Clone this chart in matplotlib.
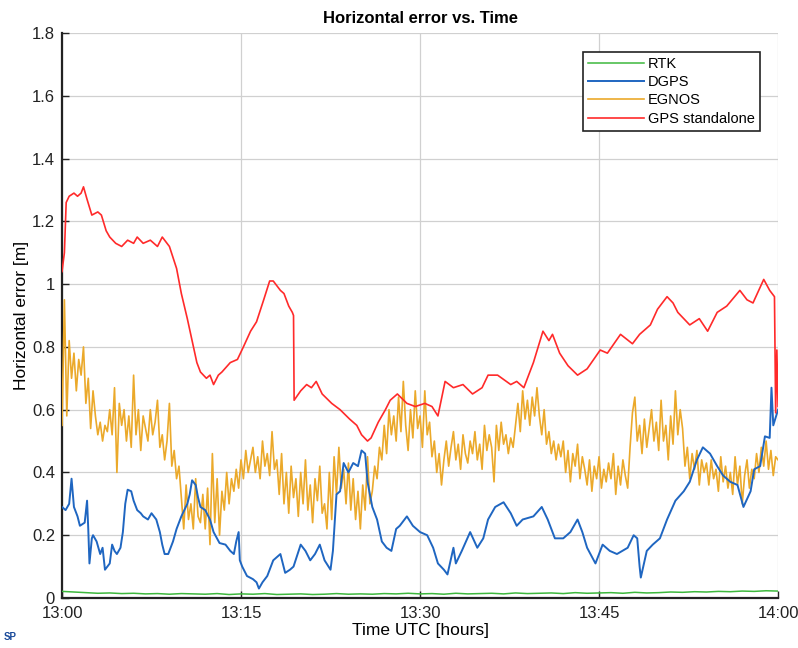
import numpy as np
import matplotlib
matplotlib.use("Agg")
import matplotlib.pyplot as plt

plt.rcParams['font.family'] = ['Liberation Sans', 'DejaVu Sans']

# ---- data (time in minutes after 13:00 UTC) ----
x_tick_pos = [0, 15, 30, 45, 60]
x_tick_labels = ["13:00", "13:15", "13:30", "13:45", "14:00"]
y_ticks = [0, 0.2, 0.4, 0.6, 0.8, 1.0, 1.2, 1.4, 1.6, 1.8]
y_tick_labels = ["0", "0.2", "0.4", "0.6", "0.8", "1", "1.2", "1.4", "1.6", "1.8"]

rtk_t = list(range(0, 61))
rtk_v = [0.021, 0.019, 0.017, 0.015, 0.016, 0.014, 0.015, 0.013, 0.014, 0.012,
         0.014, 0.013, 0.012, 0.014, 0.011, 0.013, 0.012, 0.014, 0.011, 0.012,
         0.013, 0.011, 0.012, 0.014, 0.012, 0.013, 0.012, 0.014, 0.013, 0.015,
         0.013, 0.014, 0.012, 0.015, 0.013, 0.014, 0.015, 0.013, 0.016, 0.014,
         0.015, 0.016, 0.014, 0.017, 0.015, 0.016, 0.017, 0.015, 0.018, 0.016,
         0.017, 0.019, 0.018, 0.020, 0.019, 0.021, 0.020, 0.022, 0.021, 0.023, 0.022]

dgps_t = [0, 0.3, 0.6, 0.8, 1.0, 1.3, 1.5, 1.9, 2.1, 2.2, 2.3, 2.5, 2.6, 2.9, 3.2, 3.4, 3.6, 3.8,
          4.0, 4.2, 4.4, 4.6, 4.9, 5.1, 5.3, 5.5, 5.8, 6.0, 6.3, 6.6, 6.8, 7.2, 7.5, 7.9, 8.2,
          8.4, 8.6, 8.9, 9.3, 9.6, 10.0, 10.5, 10.7, 10.9, 11.2, 11.4, 11.6, 12.0, 12.4, 12.7,
          13.2, 13.7, 14.1, 14.4, 14.6, 14.8, 14.9, 15.1, 15.5, 16.0, 16.3, 16.5, 16.8, 17.2,
          17.7, 18.3, 18.7, 19.1, 19.4, 20.0, 20.4, 20.8, 21.2, 21.6, 22.0, 22.5, 22.7, 23.0,
          23.3, 23.6, 24.0, 24.4, 24.8, 25.1, 25.4, 25.6, 26.0, 26.4, 26.8, 27.2, 27.6, 28.0,
          28.3, 28.9, 29.4, 30.0, 30.6, 31.1, 31.5, 32.0, 32.3, 32.8, 33.0, 33.5, 34.2, 34.8,
          35.3, 35.7, 36.3, 37.0, 37.6, 38.1, 38.6, 39.5, 40.2, 40.7, 41.3, 42.0, 42.6, 43.2,
          43.6, 44.0, 44.7, 45.3, 45.9, 46.5, 47.4, 47.9, 48.2, 48.4, 48.5, 49.0, 49.5, 50.1,
          50.7, 51.4, 52.1, 52.6, 53.2, 53.7, 54.3, 54.9, 55.4, 56.0, 56.6, 57.1, 57.7, 58.0,
          58.5, 58.9, 59.3, 59.45, 59.6, 60.0]
dgps_v = [0.29, 0.28, 0.30, 0.38, 0.29, 0.26, 0.23, 0.24, 0.31, 0.22, 0.11, 0.19, 0.20, 0.18,
          0.14, 0.16, 0.09, 0.10, 0.11, 0.17, 0.15, 0.14, 0.16, 0.21, 0.30, 0.345, 0.34, 0.31,
          0.28, 0.27, 0.26, 0.25, 0.27, 0.25, 0.21, 0.17, 0.14, 0.14, 0.18, 0.22, 0.26, 0.30,
          0.33, 0.375, 0.36, 0.32, 0.29, 0.28, 0.25, 0.21, 0.175, 0.17, 0.15, 0.14, 0.18, 0.21,
          0.12, 0.10, 0.07, 0.06, 0.05, 0.03, 0.05, 0.07, 0.12, 0.14, 0.08, 0.09, 0.10, 0.17,
          0.15, 0.12, 0.14, 0.17, 0.12, 0.09, 0.15, 0.33, 0.34, 0.43, 0.40, 0.43, 0.42, 0.47,
          0.46, 0.37, 0.29, 0.25, 0.18, 0.16, 0.15, 0.22, 0.23, 0.26, 0.23, 0.21, 0.20, 0.16,
          0.11, 0.09, 0.075, 0.16, 0.11, 0.15, 0.21, 0.16, 0.19, 0.25, 0.29, 0.305, 0.27, 0.23,
          0.25, 0.26, 0.29, 0.25, 0.19, 0.19, 0.21, 0.25, 0.21, 0.16, 0.11, 0.17, 0.15, 0.14,
          0.16, 0.20, 0.19, 0.10, 0.065, 0.15, 0.17, 0.19, 0.25, 0.31, 0.34, 0.37, 0.44, 0.48,
          0.46, 0.42, 0.39, 0.37, 0.36, 0.29, 0.34, 0.41, 0.42, 0.515, 0.51, 0.67, 0.55, 0.60]

egnos_t = [round(0.2 * i, 1) for i in range(301)]
egnos_v = [0.55, 0.95, 0.58, 0.82, 0.70, 0.78, 0.66, 0.76, 0.71, 0.80,
           0.62, 0.70, 0.54, 0.66, 0.58, 0.52, 0.56, 0.50, 0.55, 0.53,
           0.60, 0.52, 0.67, 0.40, 0.62, 0.55, 0.60, 0.50, 0.58, 0.48,
           0.71, 0.52, 0.60, 0.47, 0.58, 0.54, 0.50, 0.60, 0.52, 0.56,
           0.63, 0.48, 0.52, 0.44, 0.50, 0.62, 0.42, 0.47, 0.38, 0.42,
           0.32, 0.22, 0.36, 0.25, 0.30, 0.22, 0.38, 0.26, 0.24, 0.33,
           0.22, 0.35, 0.17, 0.46, 0.24, 0.38, 0.20, 0.34, 0.28, 0.40,
           0.30, 0.38, 0.34, 0.41, 0.35, 0.44, 0.38, 0.47, 0.40, 0.44,
           0.48, 0.40, 0.45, 0.38, 0.50, 0.42, 0.46, 0.39, 0.53, 0.41,
           0.44, 0.33, 0.46, 0.30, 0.40, 0.27, 0.42, 0.32, 0.38, 0.26,
           0.40, 0.30, 0.44, 0.28, 0.36, 0.24, 0.38, 0.31, 0.42, 0.27,
           0.30, 0.22, 0.40, 0.25, 0.45, 0.33, 0.48, 0.35, 0.41, 0.30,
           0.43, 0.28, 0.38, 0.25, 0.34, 0.22, 0.36, 0.28, 0.45, 0.30,
           0.34, 0.42, 0.38, 0.48, 0.44, 0.55, 0.46, 0.60, 0.52, 0.58,
           0.50, 0.64, 0.53, 0.69, 0.55, 0.47, 0.60, 0.51, 0.66, 0.54,
           0.58, 0.48, 0.66, 0.52, 0.56, 0.45, 0.50, 0.40, 0.46, 0.36,
           0.44, 0.50, 0.42, 0.48, 0.53, 0.44, 0.49, 0.41, 0.52, 0.46,
           0.43, 0.50, 0.46, 0.53, 0.44, 0.49, 0.41, 0.55, 0.47, 0.52,
           0.48, 0.37, 0.55, 0.47, 0.56, 0.49, 0.52, 0.46, 0.51, 0.48,
           0.55, 0.62, 0.53, 0.66, 0.57, 0.63, 0.55, 0.64, 0.58, 0.67,
           0.58, 0.52, 0.60, 0.49, 0.53, 0.46, 0.50, 0.44, 0.49, 0.45,
           0.50, 0.40, 0.47, 0.37, 0.46, 0.42, 0.49, 0.38, 0.45, 0.41,
           0.36, 0.44, 0.34, 0.42, 0.38, 0.45, 0.35, 0.41, 0.37, 0.43,
           0.38, 0.46, 0.33, 0.42, 0.36, 0.44, 0.39, 0.35, 0.48, 0.59,
           0.64, 0.50, 0.55, 0.46, 0.57, 0.48, 0.54, 0.60, 0.50, 0.56,
           0.47, 0.63, 0.50, 0.55, 0.44, 0.58, 0.49, 0.66, 0.52, 0.60,
           0.54, 0.42, 0.48, 0.38, 0.46, 0.41, 0.47, 0.36, 0.44, 0.40,
           0.43, 0.36, 0.44, 0.38, 0.41, 0.34, 0.45, 0.37, 0.42, 0.35,
           0.40, 0.33, 0.45, 0.36, 0.42, 0.30, 0.39, 0.44, 0.35, 0.41,
           0.38, 0.46, 0.40, 0.48, 0.42, 0.50, 0.41, 0.47, 0.39, 0.45,
           0.44]

gps_t = [0, 0.2, 0.35, 0.6, 1.0, 1.3, 1.6, 1.8, 2.1, 2.5, 3.0, 3.3, 3.7, 4.0, 4.5, 5.0, 5.5,
         6.0, 6.3, 6.8, 7.4, 8.0, 8.4, 9.0, 9.6, 10.0, 10.5, 10.9, 11.3, 11.6, 12.1, 12.4,
         12.7, 13.1, 13.4, 14.1, 14.7, 15.2, 15.8, 16.3, 16.9, 17.4, 17.7, 18.3, 18.6, 19.0,
         19.3, 19.4, 19.45, 20.0, 20.5, 20.9, 21.3, 21.8, 22.6, 23.3, 24.1, 24.7, 25.1, 25.6,
         25.9, 26.5, 27.1, 27.5, 28.1, 28.9, 29.6, 30.4, 31.0, 31.5, 32.1, 32.8, 33.6, 34.4,
         35.2, 35.7, 36.5, 37.6, 38.1, 38.7, 39.5, 40.3, 40.8, 41.1, 41.7, 42.4, 43.2, 44.0,
         45.1, 45.7, 46.8, 47.8, 48.4, 49.3, 49.9, 50.7, 51.2, 51.6, 52.6, 53.4, 54.1, 54.9,
         55.7, 56.8, 57.4, 57.9, 58.8, 59.3, 59.7, 59.8, 59.9, 60.0]
gps_v = [1.04, 1.10, 1.26, 1.28, 1.29, 1.28, 1.29, 1.31, 1.27, 1.22, 1.23, 1.22, 1.17, 1.15,
         1.13, 1.12, 1.14, 1.13, 1.15, 1.13, 1.14, 1.12, 1.15, 1.12, 1.05, 0.97, 0.89, 0.82,
         0.75, 0.72, 0.70, 0.71, 0.68, 0.71, 0.72, 0.75, 0.76, 0.80, 0.85, 0.88, 0.95, 1.01,
         1.01, 0.98, 0.97, 0.93, 0.91, 0.90, 0.63, 0.66, 0.68, 0.67, 0.69, 0.65, 0.62, 0.60,
         0.57, 0.55, 0.52, 0.50, 0.51, 0.56, 0.60, 0.63, 0.65, 0.62, 0.61, 0.62, 0.61, 0.58,
         0.69, 0.67, 0.68, 0.65, 0.67, 0.71, 0.71, 0.68, 0.69, 0.67, 0.75, 0.85, 0.82, 0.84,
         0.78, 0.74, 0.71, 0.73, 0.79, 0.78, 0.84, 0.81, 0.84, 0.87, 0.92, 0.96, 0.94, 0.91,
         0.87, 0.89, 0.85, 0.91, 0.93, 0.98, 0.95, 0.94, 1.015, 0.98, 0.96, 0.59, 0.79, 0.61]

# ---- figure ----
fig = plt.figure(figsize=(7.98, 6.48), dpi=100)
ax = fig.add_axes([0.0777, 0.0772, 0.8973, 0.8718])

c_rtk = "#3db83d"
c_dgps = "#1f66c1"
c_egnos = "#eba92a"
c_gps = "#ff2a2a"

ax.plot(rtk_t, rtk_v, color=c_rtk, lw=1.1, label="RTK", zorder=3)
ax.plot(dgps_t, dgps_v, color=c_dgps, lw=1.4, label="DGPS", zorder=4)
ax.plot(egnos_t, egnos_v, color=c_egnos, lw=1.2, label="EGNOS", zorder=3)
ax.plot(gps_t, gps_v, color=c_gps, lw=1.2, label="GPS standalone", zorder=4)

ax.set_xlim(0, 60)
ax.set_ylim(0, 1.8)
ax.set_xticks(x_tick_pos)
ax.set_xticklabels(x_tick_labels)
ax.set_yticks(y_ticks)
ax.set_yticklabels(y_tick_labels)
ax.tick_params(direction="in", labelsize=12, length=5, width=1.0, colors="#222222")
ax.tick_params(axis="x", pad=6)
ax.tick_params(axis="y", pad=5)
ax.grid(True, color="#d0d0d0", lw=0.9)
ax.set_axisbelow(True)
for s in ["top", "right"]:
    ax.spines[s].set_visible(False)
for s in ["left", "bottom"]:
    ax.spines[s].set_linewidth(1.6)
    ax.spines[s].set_color("#222222")

ax.set_title("Horizontal error vs. Time", fontsize=12, fontweight="bold", pad=7)
ax.set_xlabel("Time UTC [hours]", fontsize=12.5, labelpad=1)
ax.set_ylabel("Horizontal error [m]", fontsize=12.5, labelpad=2)

leg = ax.legend(loc="upper right", bbox_to_anchor=(0.981, 0.975), fontsize=10.5,
                handlelength=3.8, handletextpad=0.3, labelspacing=0.3,
                borderpad=0.35, borderaxespad=0.3, fancybox=False, framealpha=1)
leg.get_frame().set_edgecolor("#222222")
leg.get_frame().set_linewidth(1.2)

fig.text(0.005, 0.012, "SP", fontsize=7, fontweight="bold", color="#1a4a9a")

fig.savefig("out.png", dpi=100)
